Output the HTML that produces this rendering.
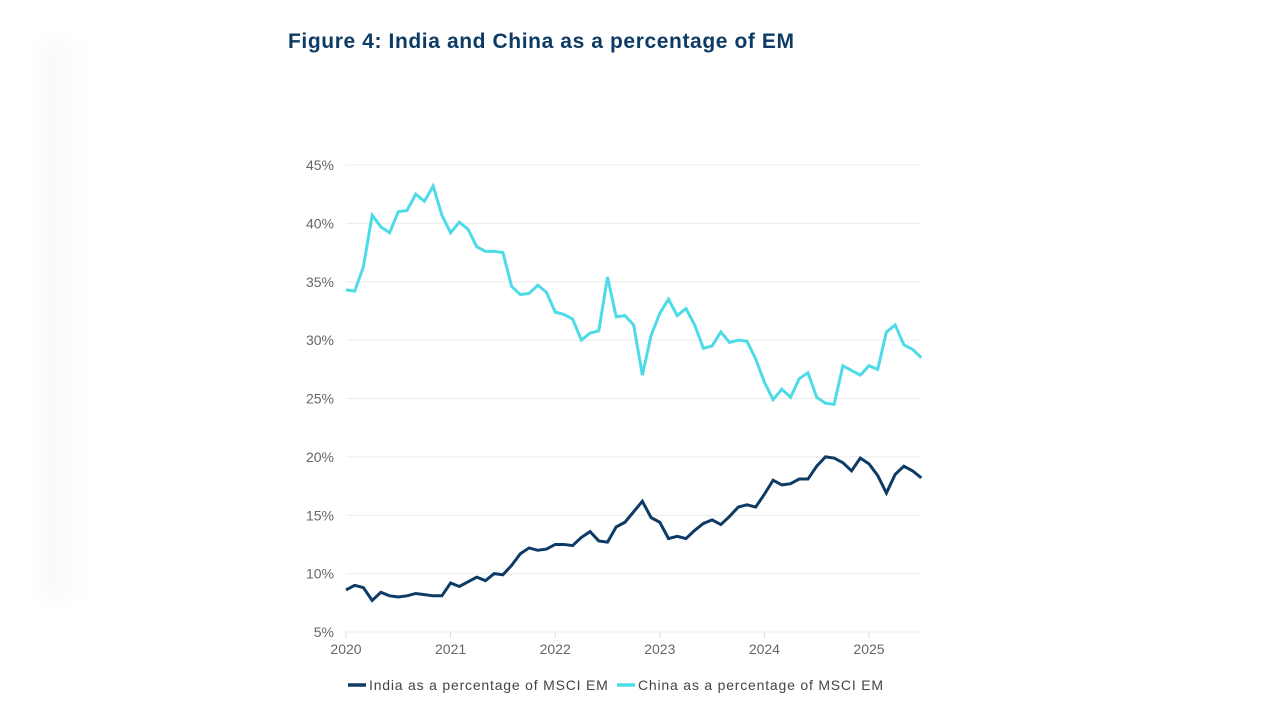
<!DOCTYPE html>
<html><head><meta charset="utf-8"><style>
body{margin:0;width:1280px;height:720px;background:#fff;overflow:hidden;font-family:"Liberation Sans",sans-serif;position:relative}
#shadow{position:absolute;left:44px;top:40px;width:40px;height:560px;background:linear-gradient(to right,rgba(0,0,0,0.03),rgba(0,0,0,0));filter:blur(8px)}
h1{position:absolute;left:288px;top:30px;margin:0;font-size:21px;letter-spacing:0.6px;font-weight:bold;color:#0d3b66}
</style></head><body>
<div id="shadow"></div>
<h1>Figure 4: India and China as a percentage of EM</h1>
<svg id="chart" width="1280" height="720" style="position:absolute;left:0;top:0"></svg>
<script>
const yTicks=[5,10,15,20,25,30,35,40,45];
const xYears=[2020,2021,2022,2023,2024,2025];
const india=[8.6,9.0,8.8,7.7,8.4,8.1,8.0,8.1,8.3,8.2,8.1,8.1,
9.2,8.9,9.3,9.7,9.4,10.0,9.9,10.7,11.7,12.2,12.0,12.1,
12.5,12.5,12.4,13.1,13.6,12.8,12.7,14.0,14.4,15.3,16.2,14.8,
14.4,13.0,13.2,13.0,13.7,14.3,14.6,14.2,14.9,15.7,15.9,15.7,
16.8,18.0,17.6,17.7,18.1,18.1,19.2,20.0,19.9,19.5,18.8,19.9,
19.4,18.4,16.9,18.5,19.2,18.8,18.2];
const china=[34.3,34.2,36.3,40.7,39.7,39.2,41.0,41.1,42.5,41.9,43.2,40.7,
39.2,40.1,39.5,38.0,37.6,37.6,37.5,34.6,33.9,34.0,34.7,34.1,
32.4,32.2,31.8,30.0,30.6,30.8,35.4,32.0,32.1,31.3,27.0,30.4,
32.3,33.5,32.1,32.7,31.3,29.3,29.5,30.7,29.8,30.0,29.9,28.4,
26.4,24.9,25.8,25.1,26.7,27.2,25.1,24.6,24.5,27.8,27.4,27.0,
27.8,27.5,30.7,31.3,29.6,29.2,28.5];
const NS="http://www.w3.org/2000/svg";
const svg=document.getElementById('chart');
const x0=346,x1=921,yTop=165,yBot=632;
const monthW=(869-346)/60;
function xs(i){return x0+i*monthW;}
function ys(v){return yBot-(v-5)/40*(yBot-yTop);}
function mk(t,a){const e=document.createElementNS(NS,t);for(const k in a)e.setAttribute(k,a[k]);svg.appendChild(e);return e;}
yTicks.forEach(v=>{
 const g=mk('line',{x1:x0,x2:x1,y1:ys(v),y2:ys(v),stroke:'#ececec','stroke-width':1});
 
 
 const t=mk('text',{x:334,y:ys(v)+5,'text-anchor':'end','font-size':14,fill:'#666'});
 t.textContent=v+'%';
 
 
});
xYears.forEach((yr,k)=>{
 const x=xs(k*12);
 const l=mk('line',{x1:x,x2:x,y1:yBot,y2:yBot+6,stroke:'#ddd','stroke-width':1});
 
 
 const t=mk('text',{x:x,y:654,'text-anchor':'middle','font-size':14,fill:'#666'});
 t.textContent=yr;
 
 
});
function line(arr,col,name){
 const p=mk('polyline',{points:arr.map((v,i)=>xs(i)+','+ys(v)).join(' '),fill:'none',stroke:col,'stroke-width':3,'stroke-linejoin':'miter'});
 
 
}
line(china,'#4ddbe8','china-series');
line(india,'#0d3b66','india-series');
const leg=[['India as a percentage of MSCI EM','#0d3b66',348],['China as a percentage of MSCI EM','#4ddbe8',617]];
leg.forEach(([txt,col,x])=>{
 const r=mk('line',{x1:x,x2:x+18,y1:685,y2:685,stroke:col,'stroke-width':3.5});
 
 
 const t=mk('text',{x:x+21,y:690,'font-size':14,'letter-spacing':'0.8',fill:'#444'});
 t.textContent=txt;
 
 
});
</script>
</body></html>
